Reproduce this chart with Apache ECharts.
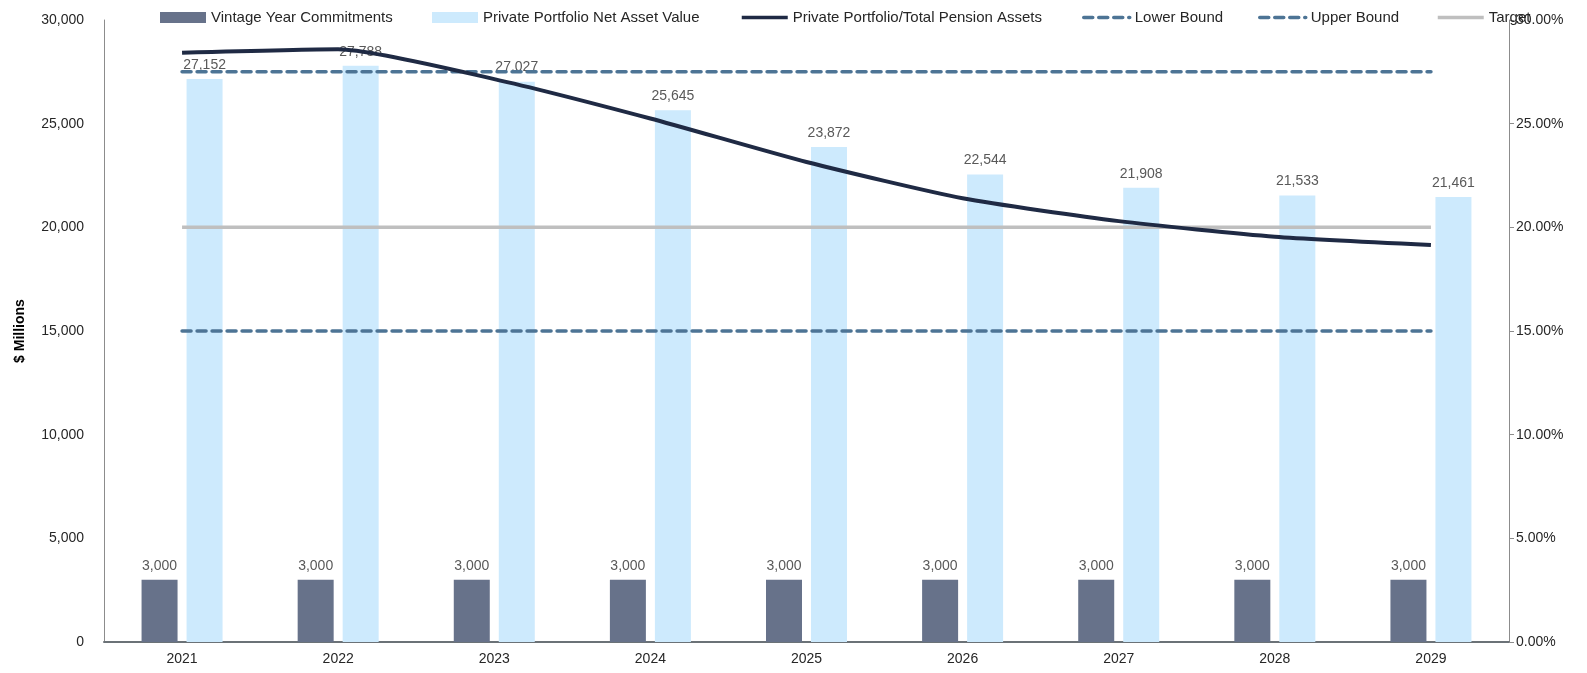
<!DOCTYPE html>
<html>
<head>
<meta charset="utf-8">
<script src="https://cdn.jsdelivr.net/npm/echarts@6/dist/echarts.min.js"></script>
<style>
    html, body { margin: 0; padding: 0; background: #fff; }
    #chart { width: 1587px; height: 673px; }
</style>
</head>
<body>
<div id="chart"></div>
<script>
const years = ["2021", "2022", "2023", "2024", "2025", "2026", "2027", "2028", "2029"];
const vintage_commitments = [3000, 3000, 3000, 3000, 3000, 3000, 3000, 3000, 3000];
const portfolio_nav = [27152, 27788, 27027, 25645, 23872, 22544, 21908, 21533, 21461];
const portfolio_pct = [28.42, 28.59, 27.15, 25.25, 23.15, 21.4, 20.3, 19.55, 19.15];
const lower_bound = [15, 15, 15, 15, 15, 15, 15, 15, 15];
const upper_bound = [27.5, 27.5, 27.5, 27.5, 27.5, 27.5, 27.5, 27.5, 27.5];
const target = [20, 20, 20, 20, 20, 20, 20, 20, 20];

const FONT = '"Liberation Sans", Arial, sans-serif';
const LABEL_STYLE = { show: true, position: "top", distance: 7, color: "#595959", fontSize: 14, fontFamily: FONT, formatter: (p) => p.value.toLocaleString("en-US") };
const BOUND_COLOR = "#4d7495";

// one legend per item so each sits where the original puts it
const legend_at = (name, left, is_line) => {
    const lg = {
        data: [name],
        left,
        top: 5,
        itemWidth: 46,
        itemHeight: 12,
        textStyle: { fontFamily: FONT, fontSize: 15, color: "#262626" },
        selectedMode: false,
    };
    if (is_line) {
        lg.itemStyle = { opacity: 0 };
        lg.lineStyle = { width: 3.5 };
    } else {
        lg.icon = "rect";
        lg.itemHeight = 11;
    }
    return lg;
};

const chart = echarts.init(document.getElementById("chart"), null, { renderer: "canvas" });

chart.setOption({
    animation: false,
    textStyle: { fontFamily: FONT },
    legend: [
        legend_at("Vintage Year Commitments", 155, false),
        legend_at("Private Portfolio Net Asset Value", 427, false),
        legend_at("Private Portfolio/Total Pension Assets", 735, true),
        legend_at("Lower Bound", 1077, true),
        legend_at("Upper Bound", 1253, true),
        legend_at("Target", 1431, true),
    ],
    grid: { left: 104, right: 78, top: 20, bottom: 31 },
    xAxis: {
        type: "category",
        data: years,
        axisTick: { show: false },
        axisLine: { lineStyle: { color: "#6b7277", width: 2 } },
        axisLabel: { color: "#262626", fontSize: 14, margin: 10 },
    },
    yAxis: [
        {
            type: "value",
            min: 0,
            max: 30000,
            interval: 5000,
            name: "$ Millions",
            nameLocation: "middle",
            nameRotate: 90,
            nameGap: 77,
            nameTextStyle: { fontWeight: "bold", fontSize: 14, color: "#000" },
            splitLine: { show: false },
            axisLine: { show: true, lineStyle: { color: "#8c8c8c" } },
            axisTick: { show: false },
            axisLabel: { color: "#262626", fontSize: 14, margin: 20, formatter: (v) => v.toLocaleString("en-US") },
        },
        {
            type: "value",
            min: 0,
            max: 30,
            interval: 5,
            splitLine: { show: false },
            axisLine: { show: true, lineStyle: { color: "#8c8c8c" } },
            axisTick: { show: true, length: 5, lineStyle: { color: "#8c8c8c" } },
            axisLabel: { color: "#262626", fontSize: 14, margin: 7, formatter: (v) => v.toFixed(2) + "%" },
        },
    ],
    series: [
        {
            name: "Vintage Year Commitments",
            type: "bar",
            data: vintage_commitments,
            barWidth: 36,
            barGap: "25%",
            itemStyle: { color: "#67728a" },
            label: LABEL_STYLE,
        },
        {
            name: "Private Portfolio Net Asset Value",
            type: "bar",
            data: portfolio_nav,
            barWidth: 36,
            itemStyle: { color: "#cdeafd" },
            label: LABEL_STYLE,
        },
        {
            name: "Lower Bound",
            type: "line",
            yAxisIndex: 1,
            data: lower_bound,
            symbol: "none",
            z: 3,
            lineStyle: { color: BOUND_COLOR, width: 3.5, type: [9, 6], cap: "round" },
            itemStyle: { color: BOUND_COLOR },
        },
        {
            name: "Upper Bound",
            type: "line",
            yAxisIndex: 1,
            data: upper_bound,
            symbol: "none",
            z: 3,
            lineStyle: { color: BOUND_COLOR, width: 3.5, type: [9, 6], cap: "round" },
            itemStyle: { color: BOUND_COLOR },
        },
        {
            name: "Target",
            type: "line",
            yAxisIndex: 1,
            data: target,
            symbol: "none",
            z: 3,
            lineStyle: { color: "#bfbfbf", width: 3.5 },
            itemStyle: { color: "#bfbfbf" },
        },
        {
            name: "Private Portfolio/Total Pension Assets",
            type: "line",
            yAxisIndex: 1,
            data: portfolio_pct,
            symbol: "none",
            smooth: 0.2,
            z: 5,
            lineStyle: { color: "#1f2a44", width: 4 },
            itemStyle: { color: "#1f2a44" },
        },
    ],
});
</script>
</body>
</html>
